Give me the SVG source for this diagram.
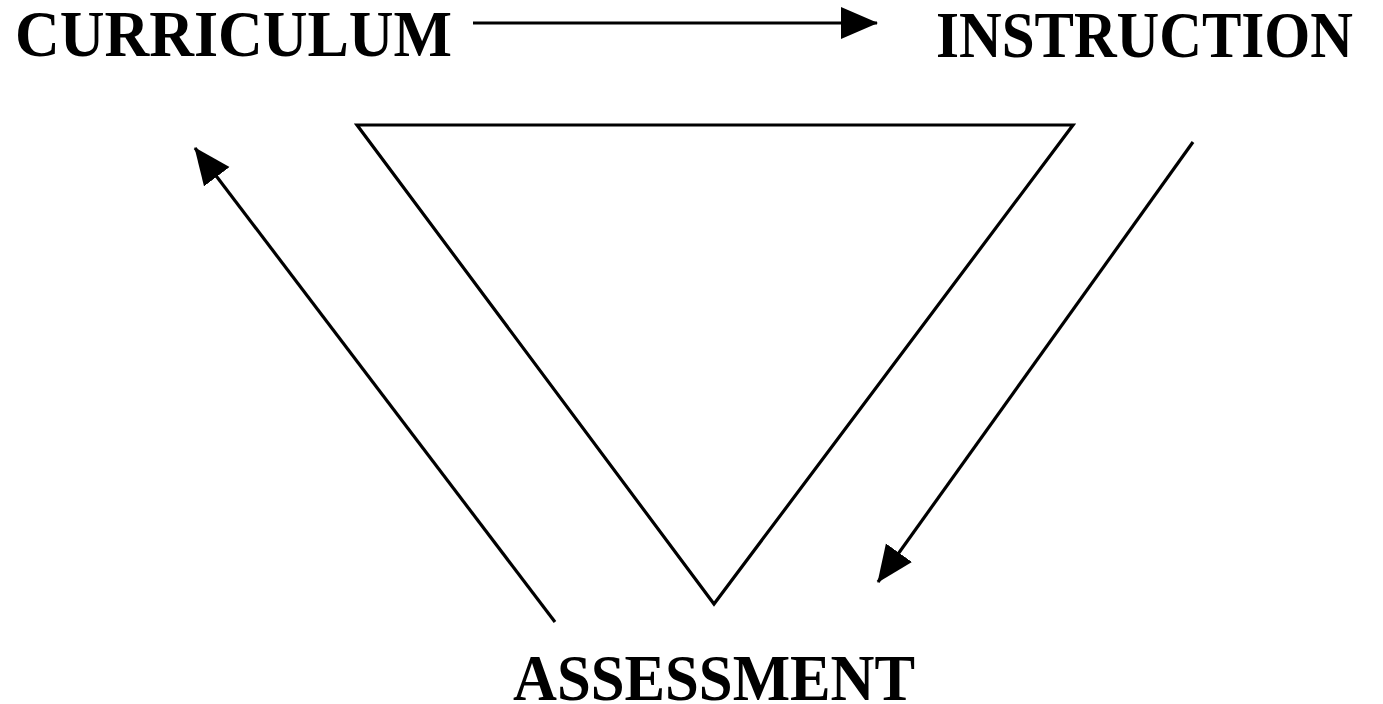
<svg xmlns="http://www.w3.org/2000/svg" width="1383" height="704" viewBox="0 0 1383 704">
<style>
.lbl{font-family:"Liberation Serif","Times New Roman",serif;font-weight:bold;font-size:65px;fill:#000}
.edge{stroke:#000;stroke-width:3.2;fill:none}
</style>
<defs>
<marker id="ah" markerUnits="userSpaceOnUse" markerWidth="40" markerHeight="34" refX="36" refY="16" orient="auto">
<path d="M0,0 L37,16 L0,32 Z" fill="#000"/>
</marker>
</defs>
<rect width="1383" height="704" fill="#fff"/>
<g id="triangle">
<polygon points="357,125 1073,125 714,604" fill="none" stroke="#000" stroke-width="3.2" stroke-linejoin="miter"/>
</g>
<g id="curriculum"><text class="lbl" x="15" y="56" textLength="437" lengthAdjust="spacingAndGlyphs">CURRICULUM</text></g>
<g id="instruction"><text class="lbl" x="936" y="57" textLength="417" lengthAdjust="spacingAndGlyphs">INSTRUCTION</text></g>
<g id="assessment"><text class="lbl" x="513" y="700" textLength="402" lengthAdjust="spacingAndGlyphs">ASSESSMENT</text></g>
<g id="connectors">
<line class="edge" x1="473" y1="23" x2="877" y2="23" marker-end="url(#ah)"/>
<line class="edge" x1="1193" y1="142" x2="878" y2="582" marker-end="url(#ah)"/>
<line class="edge" x1="555" y1="622" x2="195" y2="148" marker-end="url(#ah)"/>
</g>
</svg>
